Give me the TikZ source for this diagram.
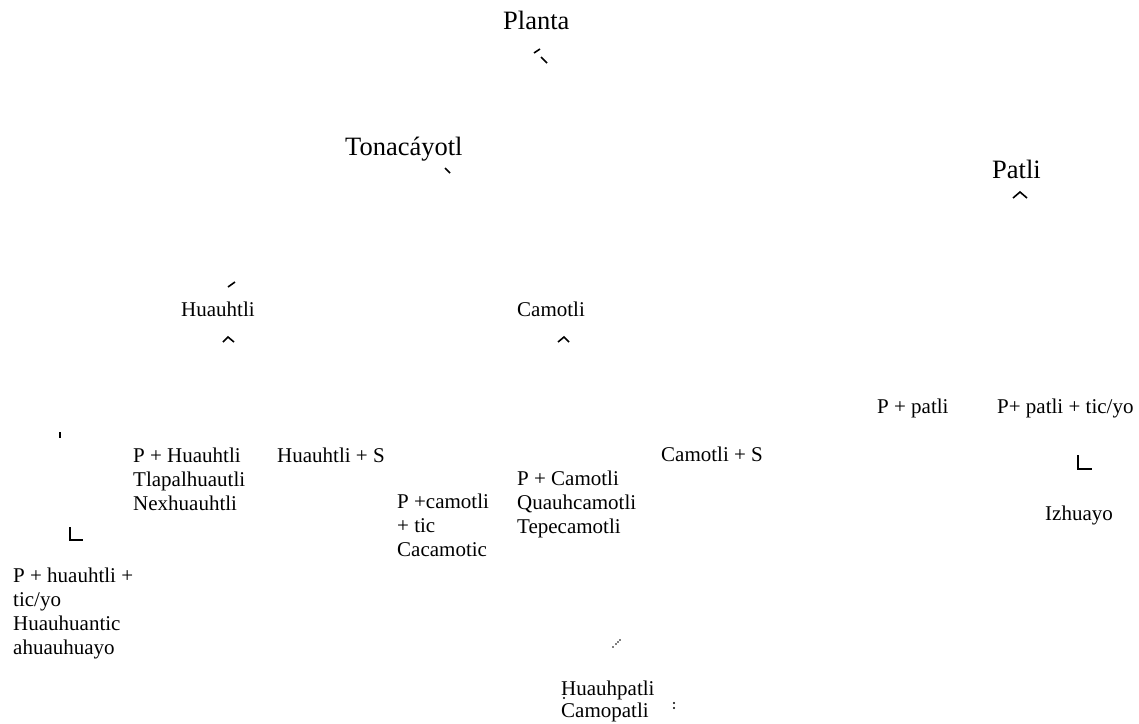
\documentclass[tikz,border=0pt]{standalone}
\usepackage{fontspec}
\setmainfont{Liberation Serif}
\usetikzlibrary{positioning}

\tikzset{
  big/.style={anchor=base west,inner sep=0pt,font=\fontsize{26.5}{30}\selectfont},
  small/.style={anchor=base west,inner sep=0pt,align=left,font=\fontsize{21}{24}\selectfont},
  frag/.style={line width=1.6pt},
  speck/.style={fill=black,draw=none}
}

\begin{document}
\begin{tikzpicture}[x=1pt,y=-1pt]
\useasboundingbox (0,0) rectangle (1139,723);
%top
\node[big] (planta) at (503,29) {Planta};
\draw[frag] (534,53) -- (540,49)
	(541,57) -- (547,63);
%second row
\node[big] (tonacayotl) at (345,155) {Tonacáyotl};
\draw[frag] (445,168) -- (450,173);
\node[big] (patli) at (992,178) {Patli};
\draw[frag] (1013,198) -- (1020,192) -- (1027,198);
%third row
\draw[frag] (228,287) -- (235,282);
\node[small] (huauhtli) at (181,316) {Huauhtli};
\draw[frag] (223,342) -- (228,337) -- (234,342);
\node[small] (camotli) at (517,316) {Camotli};
\draw[frag] (558,342) -- (564,337) -- (569,342);
%huauhtli branch (multi-line nodes sit on their last line)
\draw[frag] (60,432) -- (60,438);
\node[small] (phuauhtli) at (133,510) {P + Huauhtli\\Tlapalhuautli\\Nexhuauhtli};
\node[small] (huauhtlis) at (277,462) {Huauhtli + S};
\draw[frag] (70,527) -- (70,540) -- (83,540);
\node[small] (phuauhtlitic) at (13,654) {P + huauhtli +\\tic/yo\\Huauhuantic\\ahuauhuayo};
%camotli branch
\node[small] (pcamotlitic) at (397,556) {P +camotli\\+ tic\\Cacamotic};
\node[small] (pcamotli) at (517,533) {P + Camotli\\Quauhcamotli\\Tepecamotli};
\node[small] (camotlis) at (661,461) {Camotli + S};
%patli branch
\node[small] (ppatli) at (877,413) {P + patli};
\node[small] (ppatlitic) at (997,413) {P+ patli + tic/yo};
\draw[frag] (1078,455) -- (1078,469) -- (1092,469);
\node[small] (izhuayo) at (1045,520) {Izhuayo};
%bottom
\foreach \px/\py in {613/647,616/644,618/642,620/640}
	\fill[speck] (\px,\py) circle (0.9);
\node[small] (huauhpatli) at (561,717) {Huauhpatli\\[-2pt]Camopatli};
\fill[speck] (564,698) circle (1.2);
\fill[speck] (674,703) circle (1.1)
	(674,708) circle (1.1);
\end{tikzpicture}
\end{document}
